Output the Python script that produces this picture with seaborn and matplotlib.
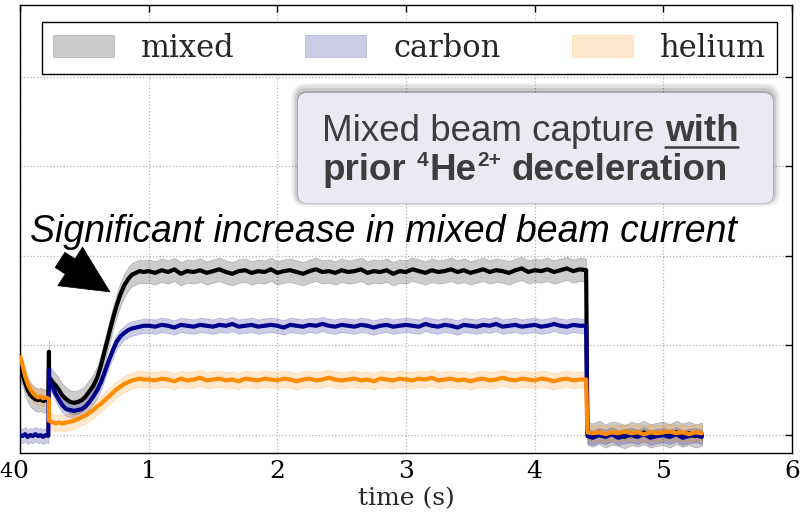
import numpy as np
import pandas as pd
import matplotlib
matplotlib.use("Agg")
import matplotlib.pyplot as plt
import matplotlib.transforms as mtransforms
from matplotlib.patches import FancyBboxPatch
from matplotlib.lines import Line2D
import seaborn as sns

# ---------------- data ----------------
time_pre = [0.00, 0.02, 0.04, 0.06, 0.08, 0.10, 0.12, 0.14, 0.16, 0.18, 0.20, 0.22]
time_rise = [0.225, 0.226, 0.24, 0.26, 0.28, 0.30, 0.33, 0.36, 0.39, 0.42, 0.45, 0.48,
             0.51, 0.54, 0.57, 0.60, 0.63, 0.66, 0.69, 0.72, 0.75, 0.78, 0.81, 0.84,
             0.87, 0.90, 0.93, 0.96]
time_flat = list(np.round(np.arange(1.00, 4.401, 0.05), 2))
time_tail = [4.41] + list(np.round(np.arange(4.45, 5.301, 0.05), 2))

mixed_pre = [0.76, 0.68, 0.58, 0.50, 0.45, 0.42, 0.40, 0.39, 0.40, 0.38, 0.39, 0.39]
carbon_pre = [0.00, -0.01, 0.01, -0.02, 0.00, -0.01, 0.01, -0.01, 0.00, -0.02, 0.00, -0.01]
helium_pre = [0.87, 0.78, 0.66, 0.57, 0.51, 0.47, 0.44, 0.42, 0.43, 0.41, 0.42, 0.41]

mixed_rise = [0.93, 0.64, 0.62, 0.58, 0.55, 0.51, 0.44, 0.40, 0.37, 0.36, 0.37, 0.39,
              0.43, 0.49, 0.55, 0.64, 0.78, 0.95, 1.12, 1.29, 1.44, 1.57, 1.67, 1.74,
              1.79, 1.81, 1.83, 1.82]
carbon_rise = [0.73, 0.62, 0.58, 0.52, 0.45, 0.40, 0.33, 0.29, 0.28, 0.27, 0.28, 0.29,
               0.32, 0.37, 0.43, 0.50, 0.59, 0.71, 0.83, 0.94, 1.04, 1.10, 1.14, 1.17,
               1.19, 1.20, 1.21, 1.22]
helium_rise = [0.40, 0.16, 0.15, 0.14, 0.13, 0.14, 0.13, 0.14, 0.15, 0.16, 0.18, 0.20,
               0.22, 0.25, 0.28, 0.32, 0.35, 0.39, 0.43, 0.47, 0.51, 0.54, 0.57, 0.59,
               0.61, 0.62, 0.63, 0.62]

mixed_flat = [1.83, 1.81, 1.84, 1.82, 1.85, 1.80, 1.83, 1.82, 1.84, 1.81,
              1.83, 1.85, 1.82, 1.80, 1.83, 1.84, 1.81, 1.83, 1.82, 1.85,
              1.81, 1.83, 1.84, 1.82, 1.80, 1.83, 1.85, 1.82, 1.83, 1.81,
              1.84, 1.82, 1.83, 1.85, 1.81, 1.83, 1.82, 1.84, 1.80, 1.83,
              1.82, 1.85, 1.83, 1.81, 1.84, 1.82, 1.83, 1.85, 1.82, 1.84,
              1.81, 1.83, 1.85, 1.82, 1.84, 1.83, 1.81, 1.84, 1.86, 1.82,
              1.84, 1.83, 1.85, 1.82, 1.84, 1.86, 1.83, 1.85, 1.84]
carbon_flat = [1.22, 1.21, 1.23, 1.22, 1.20, 1.23, 1.22, 1.21, 1.23, 1.22,
               1.21, 1.23, 1.22, 1.24, 1.21, 1.22, 1.23, 1.21, 1.22, 1.23,
               1.22, 1.20, 1.23, 1.22, 1.21, 1.23, 1.22, 1.24, 1.22, 1.21,
               1.23, 1.22, 1.21, 1.23, 1.22, 1.20, 1.22, 1.23, 1.21, 1.22,
               1.23, 1.22, 1.21, 1.24, 1.22, 1.21, 1.23, 1.22, 1.20, 1.23,
               1.22, 1.21, 1.23, 1.22, 1.24, 1.21, 1.22, 1.23, 1.21, 1.22,
               1.23, 1.21, 1.22, 1.24, 1.22, 1.21, 1.23, 1.22, 1.22]
helium_flat = [0.62, 0.61, 0.63, 0.62, 0.60, 0.63, 0.61, 0.62, 0.64, 0.61,
               0.62, 0.63, 0.61, 0.62, 0.60, 0.63, 0.62, 0.61, 0.63, 0.62,
               0.61, 0.63, 0.62, 0.60, 0.62, 0.63, 0.61, 0.62, 0.64, 0.62,
               0.61, 0.62, 0.63, 0.61, 0.62, 0.60, 0.63, 0.62, 0.61, 0.63,
               0.62, 0.61, 0.63, 0.62, 0.64, 0.61, 0.62, 0.63, 0.61, 0.62,
               0.60, 0.62, 0.63, 0.61, 0.62, 0.64, 0.62, 0.61, 0.63, 0.62,
               0.61, 0.63, 0.62, 0.60, 0.62, 0.63, 0.61, 0.62, 0.62]

mixed_tail = [0.02, 0.00, 0.03, -0.01, 0.02, 0.01, -0.02, 0.02, 0.00, 0.03,
              -0.01, 0.01, 0.02, -0.01, 0.03, 0.00, 0.02, -0.01, 0.01]
carbon_tail = [-0.01, -0.03, 0.00, -0.02, 0.01, -0.03, -0.01, 0.00, -0.02, 0.01,
               -0.03, -0.01, 0.00, -0.02, 0.01, -0.03, -0.01, 0.00, -0.02]
helium_tail = [0.03, 0.02, 0.03, 0.01, 0.03, 0.02, 0.04, 0.02, 0.03, 0.01,
               0.03, 0.02, 0.03, 0.04, 0.02, 0.03, 0.01, 0.03, 0.02]

series_names = ["mixed", "carbon", "helium"]
line_colors = ["#000000", "#00008b", "#ff8c00"]
band_spread = [0.13, 0.08, 0.09]
x_ticks = [0, 1, 2, 3, 4, 5, 6]
y_ticks = [0, 1, 2, 3, 4]
x_label = "time (s)"
note_text = "Significant increase in mixed beam current"

# ---------------- assemble ----------------
time = time_pre + time_rise + time_flat + time_tail
values = {
    "mixed": mixed_pre + mixed_rise + mixed_flat + mixed_tail,
    "carbon": carbon_pre + carbon_rise + carbon_flat + carbon_tail,
    "helium": helium_pre + helium_rise + helium_flat + helium_tail,
}
rows = []
for name in series_names:
    for t, v in zip(time, values[name]):
        rows.append({"time": t, "value": v, "series": name})
df = pd.DataFrame(rows)

sns.set_theme(style="white")
plt.rcParams.update({
    "font.family": ["DejaVu Serif"],
    "xtick.direction": "in", "ytick.direction": "in",
    "xtick.top": True, "ytick.right": True,
    "xtick.major.size": 5, "ytick.major.size": 5,
    "xtick.major.width": 1.0, "ytick.major.width": 1.0,
    "xtick.color": "black", "ytick.color": "black",
    "axes.edgecolor": "black", "axes.linewidth": 1.0,
})

W, H = 810, 514
fig = plt.figure(figsize=(W / 100, H / 100), dpi=100)
ax = fig.add_axes([20 / W, 1 - 453 / H, 772 / W, 448 / H])

# noise envelopes
bands = []
for name, c, s in zip(series_names, line_colors, band_spread):
    v = np.array(values[name])
    b = ax.fill_between(time, v - s, v + s, color=c, alpha=0.2, lw=0.6,
                        label=name, zorder=2)
    bands.append(b)

sns.lineplot(data=df, x="time", y="value", hue="series", hue_order=series_names,
             palette=dict(zip(series_names, line_colors)), estimator=None,
             sort=False, units="series", lw=3.0, legend=False, ax=ax, zorder=3)

ax.set_xlim(0, 6)
ax.set_ylim(-0.2, 4.8)
ax.set_xticks(x_ticks)
ax.set_xticklabels([str(t) for t in x_ticks], fontsize=18)
ax.set_yticks(y_ticks)
ax.set_yticklabels([])
ax.set_xlabel(x_label, fontsize=18, labelpad=3)
ax.set_ylabel("")
ax.grid(True, ls=":", color="#b4b4b4", lw=0.9)
ax.set_axisbelow(True)
ax.tick_params(axis="x", pad=5)

leg = ax.legend(handles=bands, labels=series_names, loc="upper left",
                bbox_to_anchor=(0.0285, 0.5, 0.952, 0.462), mode="expand",
                ncol=3, fontsize=22, frameon=True, fancybox=False,
                edgecolor="black", framealpha=1, borderaxespad=0,
                handlelength=2.0, handleheight=0.75, handletextpad=0.9,
                borderpad=0.35)
leg.get_frame().set_linewidth(1.0)
leg.set_zorder(5)

# annotation arrow and text
ax.annotate("", xy=(0.699, 1.598), xytext=(0.311, 1.955),
            arrowprops=dict(arrowstyle="simple,head_length=1.7,head_width=1.65,tail_width=0.65",
                            fc="black", ec="black", lw=0.5, shrinkA=0, shrinkB=0,
                            mutation_scale=20), zorder=6)
ax.text(0.078, 2.16, note_text, fontsize=27, style="italic",
        family=["Liberation Sans", "DejaVu Sans"], color="black",
        va="baseline", ha="left", zorder=6)

# stray tick fragment at the left edge of the reference
fig.text(13, H - 477, "4", transform=mtransforms.IdentityTransform(),
         fontsize=15, ha="right", va="baseline", color="black")

# ---------------- highlighted box ----------------
ident = mtransforms.IdentityTransform()
bx0, bx1, by_top, by_bot = 298, 773, 93, 203
for grow, dy, a in [(7, 3, 0.05), (5, 3, 0.07), (3, 2, 0.10), (1, 1, 0.15)]:
    sh = FancyBboxPatch((bx0 - grow, H - by_bot - grow + dy),
                        (bx1 - bx0) + 2 * grow, (by_bot - by_top) + 2 * grow,
                        boxstyle="round,pad=0,rounding_size=%d" % (9 + grow),
                        transform=ident, fc="black", ec="none", alpha=a, zorder=7)
    fig.add_artist(sh)
box = FancyBboxPatch((bx0, H - by_bot), bx1 - bx0, by_bot - by_top,
                     boxstyle="round,pad=0,rounding_size=9", transform=ident,
                     fc="#eaeaf2", ec="none", zorder=8)
fig.add_artist(box)

fig.canvas.draw()
rend = fig.canvas.get_renderer()
tc = "#3d3d3d"
sans = ["Liberation Sans", "DejaVu Sans"]
FS, SFS = 26.5, 15


def put(s, x, ytop, **kw):
    return fig.text(x, H - ytop, s, transform=ident, va="baseline", ha="left",
                    color=tc, family=sans, zorder=9, **kw)


def wid(t):
    return t.get_window_extent(rend).width


def space_w(**kw):
    a = fig.text(0, 0, "aa", family=sans, **kw)
    b = fig.text(0, 0, "a a", family=sans, **kw)
    w = b.get_window_extent(rend).width - a.get_window_extent(rend).width
    a.remove(); b.remove()
    return w


sp_n = space_w(fontsize=FS)
sp_b = space_w(fontsize=FS, fontweight="bold")

x = 322
t1 = put("Mixed beam capture", x, 141, fontsize=FS)
x += wid(t1) + sp_n
t2 = put("with", x, 141, fontsize=FS, fontweight="bold")
w2 = wid(t2)
fig.add_artist(Line2D([x, x + w2], [H - 146.5, H - 146.5], transform=ident,
                      color=tc, lw=1.8, zorder=9))

x = 323
p1 = put("prior", x, 180, fontsize=FS, fontweight="bold")
x += wid(p1) + sp_b
p2 = put("4", x, 166, fontsize=SFS, fontweight="bold")
x += wid(p2) + 1
p3 = put("He", x, 180, fontsize=FS, fontweight="bold")
x += wid(p3) + 1
p4 = put("2+", x, 166, fontsize=SFS, fontweight="bold")
x += wid(p4) + sp_b
p5 = put("deceleration", x, 180, fontsize=FS, fontweight="bold")

fig.savefig("out.png", dpi=100)
